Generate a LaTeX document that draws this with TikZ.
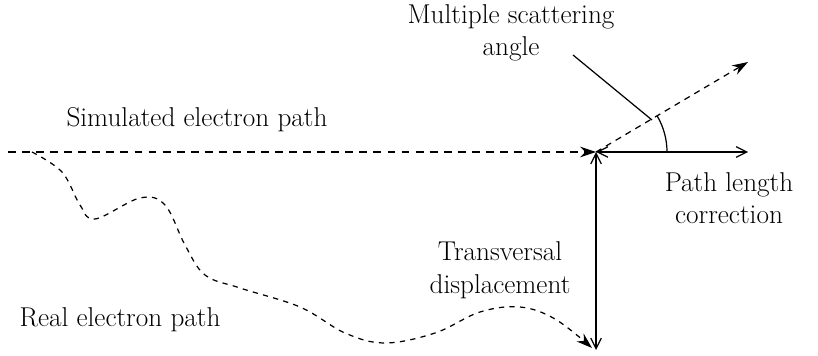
\documentclass[tikz,border=0pt]{standalone}
\usepackage{fontspec}
\usepackage{tikz}
\usetikzlibrary{arrows.meta}

\begin{document}
\begin{tikzpicture}[x=0.02cm,y=0.02cm,line width=0.7pt,
    lbl/.style={font=\fontsize{15.5}{18.5}\selectfont,align=center,inner sep=0pt},
    fullhead/.style={-{Stealth[length=9pt,width=6pt]}},
    openhead/.style={{Straight Barb[length=6pt,width=6pt]}-{Straight Barb[length=6pt,width=6pt]}}]
        \useasboundingbox (0,0) rectangle (818,355);
        % points
        \coordinate (start) at (8,203);
        \coordinate (P) at (596,203);
        \coordinate (corr) at (748,203);
        \coordinate (down) at (596,5);
        \coordinate (scat) at (748,293);
        \coordinate (tip) at (652,235);
        % texts
        \node[lbl] (sim) at (197,235) {Simulated electron path};
        \node[lbl] (real) at (120,35) {Real electron path};
        \node[lbl] (msa) at (511,322) {Multiple scattering\\angle};
        \node[lbl] (plc) at (729,157) {Path length\\correction};
        \node[lbl] (trd) at (500,85) {Transversal\\displacement};
        % paths
        \draw[dash pattern=on 4.5pt off 3.5pt,fullhead] (start) -- (P);
        \draw[dash pattern=on 3pt off 3pt,fullhead] plot[smooth,tension=0.6] coordinates {(32,203) (62,183) (80,150) (95,136) (140,157) (165,150) (185,110) (205,80) (240,67) (300,48) (345,22) (385,12) (435,22) (480,43) (520,48) (555,36) (592,7)};
        \draw[dash pattern=on 3.5pt off 3pt,fullhead] (P) -- (scat);
        \draw[openhead] (P) -- (corr);
        \draw[openhead] (P) -- (down);
        \draw ([xshift=71*0.02cm]P) arc[start angle=0,end angle=30.6,radius=71];
        \draw (573,300) -- (tip);
      \end{tikzpicture}
\end{document}
